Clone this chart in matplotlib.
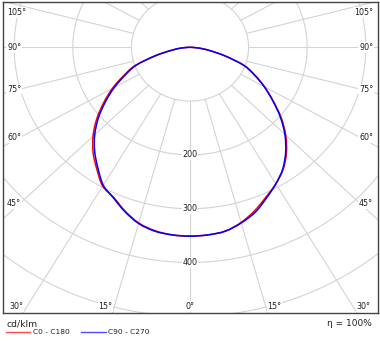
import numpy as np
import matplotlib
matplotlib.use("Agg")
import matplotlib.pyplot as plt
from matplotlib.lines import Line2D
from matplotlib.path import Path
from matplotlib.patches import PathPatch

# Luminous intensity (cd/klm) at gamma angles, per C-plane half
gamma = [0, 5, 10, 15, 20, 25, 30, 35, 40, 45, 50, 55, 60, 65, 70, 75, 80, 85, 90]
c0 = [351, 350, 347, 337, 323, 307, 293, 277, 256, 231, 203, 173, 147, 122, 98, 62, 33, 14, 0]
c180 = [351, 350, 346, 338, 324, 308, 298, 277, 257, 234, 208, 180, 153, 125, 100, 62, 32, 14, 0]
c90 = [351, 350, 347, 338, 326, 309, 293, 276, 254, 229, 201, 172, 146, 121, 97, 62, 33, 14, 0]
c270 = [351, 350, 347, 339, 325, 309, 296, 274, 253, 230, 204, 176, 149, 122, 98, 62, 32, 14, 0]

rings = [100, 200, 300, 400, 500]
ring_labels = [200, 300, 400]
side_angles = [45, 60, 75, 90, 105]
bottom_angles = [0, 15, 30]
efficiency = "η = 100%"
unit = "cd/klm"
legend_names = ["C0 - C180", "C90 - C270"]
colors = ["#ff0000", "#0000ff"]

# layout in pixels
W, H = 380, 341
x0, x1, y0, y1 = 2.7, 377.7, 2.0, 312.7
CX, CY = 190.0, 47.3
SX, SY = 0.586, 0.538

grid_c = "#d4d4d4"
text_c = "#222222"
fs = 5.8

fig = plt.figure(figsize=(W / 100, H / 100), dpi=100)
ax = fig.add_axes([x0 / W, (H - y1) / H, (x1 - x0) / W, (y1 - y0) / H])
xmin, xmax = (x0 - CX) / SX, (x1 - CX) / SX
ymin, ymax = (CY - y1) / SY, (CY - y0) / SY
ax.set_xlim(xmin, xmax)
ax.set_ylim(ymin, ymax)
ax.set_xticks([])
ax.set_yticks([])
for s in ax.spines.values():
    s.set_color("#444444")
    s.set_linewidth(1.0)

# grid: rings and radial lines
t = np.linspace(0, 2 * np.pi, 721)
for r in rings:
    ax.plot(r * np.sin(t), r * np.cos(t), color=grid_c, lw=0.8, zorder=1)
for a in range(0, 360, 15):
    ar = np.radians(a)
    ax.plot([100 * np.sin(ar), 800 * np.sin(ar)], [-100 * np.cos(ar), -800 * np.cos(ar)],
            color=grid_c, lw=0.8, zorder=1)


def curve_path(right, left):
    # left half from 90 down to 0, then right half from 5 up to 90
    g = np.radians(gamma)
    r_ = np.array(right, float)
    l_ = np.array(left, float)
    xs = np.concatenate([-l_[::-1] * np.sin(g[::-1]), r_[1:] * np.sin(g[1:])])
    ys = np.concatenate([-l_[::-1] * np.cos(g[::-1]), -r_[1:] * np.cos(g[1:])])
    p = np.column_stack([xs, ys])
    # smooth drawing through the points (Catmull-Rom as cubic Bezier)
    pp = np.vstack([p[0], p, p[-1]])
    verts = [p[0]]
    codes = [Path.MOVETO]
    for i in range(1, len(pp) - 2):
        c1 = pp[i] + (pp[i + 1] - pp[i - 1]) / 6
        c2 = pp[i + 1] - (pp[i + 2] - pp[i]) / 6
        verts += [c1, c2, pp[i + 1]]
        codes += [Path.CURVE4] * 3
    return Path(verts, codes)


for (right, left), c, z in zip([(c0, c180), (c90, c270)], colors, [3, 4]):
    ax.add_patch(PathPatch(curve_path(right, left), facecolor="none", edgecolor=c, lw=1.1, zorder=z))

box = dict(facecolor="white", edgecolor="none", pad=0.6)

# ring labels along nadir
for r in ring_labels:
    ax.text(0, -r, str(r), ha="center", va="center", fontsize=fs, color=text_c, bbox=box, zorder=5)

# side angle labels
xc = (20 - CX) / SX
ytop = (CY - 12.6) / SY
for a in side_angles:
    yv = min(xc / np.tan(np.radians(a)), ytop)
    ax.text(xmin + 4.3 / SX, yv, f"{a}°", ha="left", va="center", fontsize=fs, color=text_c, bbox=box, zorder=5)
    ax.text(xmax - 4.5 / SX, yv, f"{a}°", ha="right", va="center", fontsize=fs, color=text_c, bbox=box, zorder=5)

# bottom angle labels
for a in bottom_angles:
    xi = -ymin * np.tan(np.radians(a))
    if a == 0:
        ax.annotate("0°", (0, ymin), xytext=(0, 2.6), textcoords="offset points", ha="center",
                    va="baseline", fontsize=fs, color=text_c, bbox=box, zorder=5)
    else:
        for sgn, ha in [(-1, "right"), (1, "left")]:
            ax.annotate(f"{a}°", (sgn * xi, ymin), xytext=(0, 2.6), textcoords="offset points", ha=ha,
                        va="baseline", fontsize=fs, color=text_c, bbox=box, zorder=5)

# below the box
fig.text(7 / W, 1 - 324 / H, unit, ha="left", va="center", fontsize=6.7, color=text_c)
fig.text(372 / W, 1 - 324 / H, efficiency, ha="right", va="center", fontsize=6.5, color=text_c)
for (lx0, lx1, tx), name, c in zip([(6, 30, 33), (81, 106, 108)], legend_names, colors):
    fig.add_artist(Line2D([lx0 / W, lx1 / W], [1 - 331.5 / H] * 2, color=c, lw=1.0, alpha=0.7))
    fig.text(tx / W, 1 - 332.5 / H, name, ha="left", va="center", fontsize=5.4, color=text_c)

fig.savefig("out.png", dpi=100)
